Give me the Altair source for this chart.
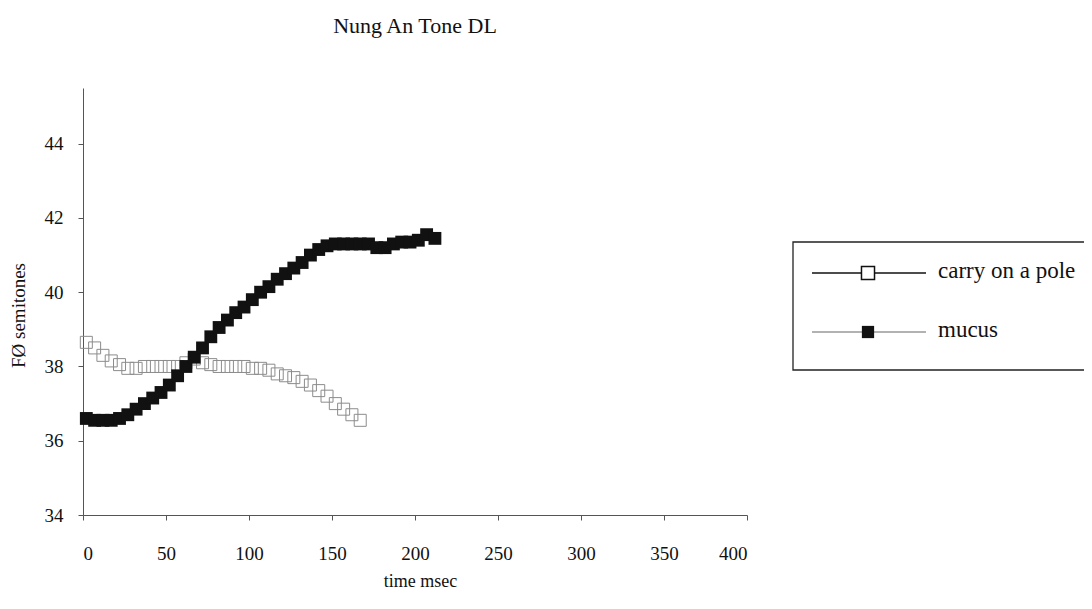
import altair as alt
import pandas as pd

# ---- data ----
carry_time = [2, 7, 12, 17, 22, 27, 32, 37, 42, 47, 52, 57, 62, 67, 72, 77, 82, 87,
              92, 97, 102, 107, 112, 117, 122, 127, 132, 137, 142, 147, 152, 157, 162, 167]
carry_f0 = [38.65, 38.5, 38.3, 38.15, 38.05, 37.95, 37.95, 38.0, 38.0, 38.0, 38.0, 38.0,
            38.1, 38.2, 38.1, 38.05, 38.0, 38.0, 38.0, 38.0, 37.95, 37.95, 37.9, 37.8,
            37.75, 37.7, 37.6, 37.5, 37.35, 37.2, 37.0, 36.85, 36.7, 36.55]

mucus_time = [2, 7, 12, 17, 22, 27, 32, 37, 42, 47, 52, 57, 62, 67, 72, 77, 82, 87, 92,
              97, 102, 107, 112, 117, 122, 127, 132, 137, 142, 147, 152, 157, 162, 167,
              172, 177, 182, 187, 192, 197, 202, 207, 212]
mucus_f0 = [36.6, 36.55, 36.55, 36.55, 36.6, 36.7, 36.85, 37.0, 37.15, 37.3, 37.5, 37.75,
            38.0, 38.25, 38.5, 38.8, 39.05, 39.25, 39.45, 39.6, 39.8, 40.0, 40.15, 40.35,
            40.5, 40.65, 40.8, 41.0, 41.15, 41.25, 41.3, 41.3, 41.3, 41.3, 41.3, 41.2,
            41.2, 41.3, 41.35, 41.35, 41.4, 41.55, 41.45]

series_names = ["carry on a pole", "mucus"]
x_ticks = [0, 50, 100, 150, 200, 250, 300, 350, 400]
y_ticks = [34, 36, 38, 40, 42, 44]

FONT = "Liberation Serif"

carry_df = pd.DataFrame({"time": carry_time, "f0": carry_f0, "series": series_names[0]})
mucus_df = pd.DataFrame({"time": mucus_time, "f0": mucus_f0, "series": series_names[1]})

x_enc = alt.X(
    "time:Q",
    scale=alt.Scale(domain=[0, 400], nice=False, zero=False),
    axis=alt.Axis(
        values=x_ticks, title="time msec", grid=False,
        tickSize=5, labelPadding=24, labelFontSize=19, labelFont=FONT, labelColor="#111",
        domainColor="#555", tickColor="#555",
        titleFont=FONT, titleFontSize=18, titleFontWeight="normal", titleColor="#111",
        titleX=337, titleY=66, titleAlign="center", titleBaseline="middle",
    ),
)
y_enc = alt.Y(
    "f0:Q",
    scale=alt.Scale(domain=[34, 45.5], nice=False, zero=False),
    axis=alt.Axis(
        values=y_ticks, title="FØ semitones", grid=False,
        tickSize=5, labelPadding=15, labelFontSize=19, labelFont=FONT, labelColor="#111",
        domainColor="#555", tickColor="#555",
        titleFont=FONT, titleFontSize=19, titleFontWeight="normal", titleColor="#111",
        titleX=-65, titleY=227, titleAngle=270, titleAlign="center", titleBaseline="middle",
    ),
)

carry_pts = alt.Chart(carry_df).mark_point(
    shape="square", size=144, filled=False, stroke="#8c8c8c", strokeWidth=1, opacity=1
).encode(x=x_enc, y=y_enc)

mucus_pts = alt.Chart(mucus_df).mark_point(
    shape="square", size=165, filled=True, fill="#111111", opacity=1
).encode(x="time:Q", y="f0:Q")

# ---- hand-drawn Excel-style legend box ----
one = alt.Data(values=[{"a": 1}])
box = alt.Chart(one).mark_rect(fill="none", stroke="#222", strokeWidth=1.3).encode(
    x=alt.value(710), x2=alt.value(1030), y=alt.value(154), y2=alt.value(282)
)
row1_line = alt.Chart(one).mark_rule(color="#111", strokeWidth=1.6).encode(
    x=alt.value(729), x2=alt.value(843), y=alt.value(185)
)
row1_sym = alt.Chart(one).mark_point(
    shape="square", size=170, filled=True, fill="white", stroke="#111", strokeWidth=1.5, opacity=1
).encode(x=alt.value(785), y=alt.value(185))
row2_line = alt.Chart(one).mark_rule(color="#999", strokeWidth=1.6).encode(
    x=alt.value(729), x2=alt.value(843), y=alt.value(244)
)
row2_sym = alt.Chart(one).mark_point(
    shape="square", size=150, filled=True, fill="#111", opacity=1
).encode(x=alt.value(785), y=alt.value(244))
label1 = alt.Chart(alt.Data(values=[{"t": series_names[0]}])).mark_text(
    font=FONT, fontSize=23, align="left", baseline="middle", color="#111"
).encode(x=alt.value(855), y=alt.value(183), text="t:N")
label2 = alt.Chart(alt.Data(values=[{"t": series_names[1]}])).mark_text(
    font=FONT, fontSize=23, align="left", baseline="middle", color="#111"
).encode(x=alt.value(855), y=alt.value(242), text="t:N")

chart = alt.layer(
    carry_pts, mucus_pts, box, row1_line, row1_sym, row2_line, row2_sym, label1, label2
).properties(
    width=664,
    height=427,
    autosize=alt.AutoSizeParams(type="none"),
    padding={"left": 75, "top": 80, "right": 337, "bottom": 80},
    background="white",
    title=alt.TitleParams(
        "Nung An Tone DL", font=FONT, fontSize=22, fontWeight="normal",
        color="#111", anchor="middle", offset=50,
    ),
).configure_view(stroke=None)

chart.save("out.html", embed_options={"renderer": "svg", "actions": False})
